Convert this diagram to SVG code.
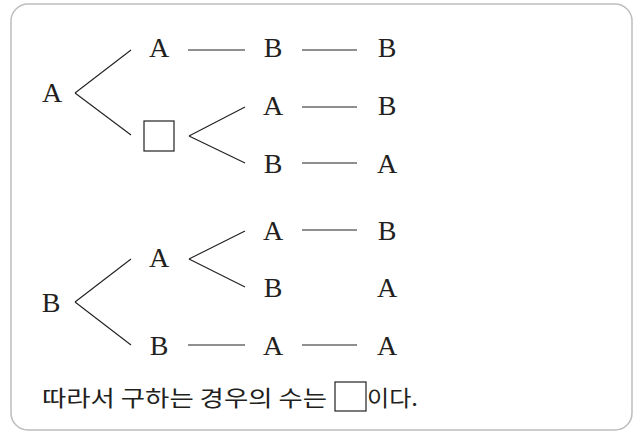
<svg xmlns="http://www.w3.org/2000/svg" width="634" height="437" viewBox="0 0 634 437">
<style>
.t{font-family:"Liberation Serif","DejaVu Serif",serif;font-size:28px;fill:#231f20;text-anchor:middle}
.k{font-family:"Noto Sans CJK KR","Noto Sans",sans-serif;font-size:22px;fill:#231f20}
.c line{stroke:#231f20;stroke-width:1.1}
.box{fill:#fff;stroke:#231f20;stroke-width:1.2}
</style>
<rect x="11" y="4" width="621" height="426" rx="17" fill="#fff" stroke="#bdbdbd" stroke-width="1.5"/>
<g class="c" id="connectors">
<line x1="75" y1="93" x2="131" y2="50"/>
<line x1="75" y1="93" x2="131" y2="135"/>
<line x1="188" y1="50" x2="245" y2="50"/>
<line x1="302" y1="50" x2="357" y2="50"/>
<line x1="189" y1="136" x2="245" y2="107"/>
<line x1="189" y1="136" x2="245" y2="163"/>
<line x1="302" y1="107" x2="357" y2="107"/>
<line x1="302" y1="163" x2="357" y2="163"/>
<line x1="75" y1="302" x2="131" y2="259"/>
<line x1="75" y1="302" x2="131" y2="345"/>
<line x1="189" y1="259" x2="245" y2="231"/>
<line x1="189" y1="259" x2="245" y2="287"/>
<line x1="302" y1="230" x2="357" y2="230"/>
<line x1="188" y1="345" x2="245" y2="345"/>
<line x1="302" y1="345" x2="357" y2="345"/>
</g>
<g id="n-root-a"><text class="t" x="52" y="102">A</text></g>
<g id="n-a1"><text class="t" x="159" y="57">A</text></g>
<g id="n-b1"><text class="t" x="273" y="57">B</text></g>
<g id="n-b1b"><text class="t" x="387" y="57">B</text></g>
<g id="n-blank"><rect class="box" x="144" y="121" width="30" height="30"/></g>
<g id="n-a2"><text class="t" x="273" y="115">A</text></g>
<g id="n-b2"><text class="t" x="387" y="115">B</text></g>
<g id="n-b3"><text class="t" x="273" y="173">B</text></g>
<g id="n-a3"><text class="t" x="387" y="173">A</text></g>
<g id="n-root-b"><text class="t" x="51" y="312">B</text></g>
<g id="n-a4"><text class="t" x="159" y="267">A</text></g>
<g id="n-a5"><text class="t" x="273" y="240">A</text></g>
<g id="n-b5"><text class="t" x="387" y="240">B</text></g>
<g id="n-b6"><text class="t" x="273" y="297">B</text></g>
<g id="n-a6"><text class="t" x="387" y="297">A</text></g>
<g id="n-b7"><text class="t" x="159" y="355">B</text></g>
<g id="n-a7"><text class="t" x="273" y="355">A</text></g>
<g id="n-a8"><text class="t" x="387" y="355">A</text></g>
<g id="answer">
<text class="k" x="42" y="406" textLength="285" lengthAdjust="spacingAndGlyphs">따라서 구하는 경우의 수는</text>
<rect class="box" x="335" y="382" width="31" height="29"/>
<text class="k" x="367" y="406" textLength="51" lengthAdjust="spacingAndGlyphs">이다.</text>
</g>
</svg>
